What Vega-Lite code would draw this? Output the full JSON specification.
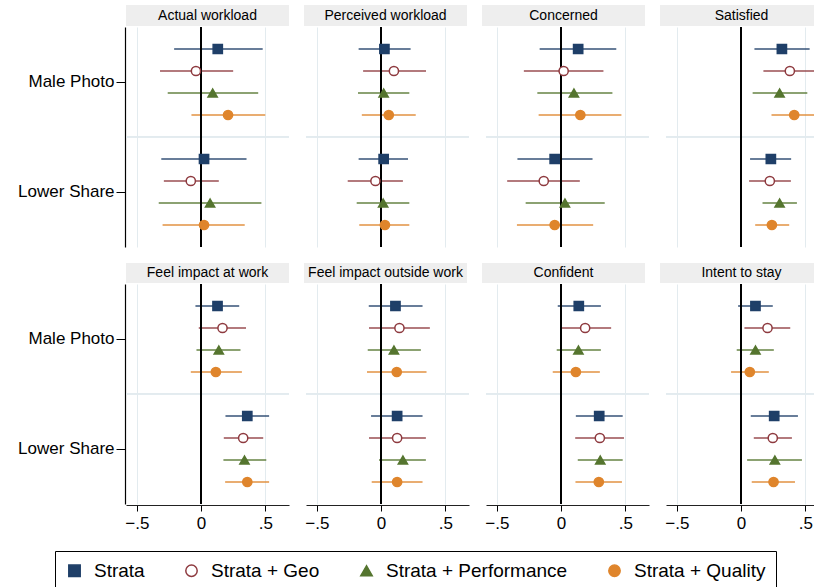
{
  "$schema": "https://vega.github.io/schema/vega-lite/v6.json",
  "padding": {"left": 17, "top": 5, "right": 0, "bottom": 0},
  "datasets": {
    "panels": [
      {"outcome": "Actual workload", "row": 1},
      {"outcome": "Perceived workload", "row": 1},
      {"outcome": "Concerned", "row": 1},
      {"outcome": "Satisfied", "row": 1},
      {"outcome": "Feel impact at work", "row": 2},
      {"outcome": "Feel impact outside work", "row": 2},
      {"outcome": "Confident", "row": 2},
      {"outcome": "Intent to stay", "row": 2}
    ],
    "est": [
      {"outcome": "Actual workload", "group": "Male Photo", "model": "Strata", "est": 0.13, "lo": -0.21, "hi": 0.48},
      {"outcome": "Actual workload", "group": "Male Photo", "model": "Strata + Geo", "est": -0.04, "lo": -0.32, "hi": 0.25},
      {"outcome": "Actual workload", "group": "Male Photo", "model": "Strata + Performance", "est": 0.09, "lo": -0.26, "hi": 0.445},
      {"outcome": "Actual workload", "group": "Male Photo", "model": "Strata + Quality", "est": 0.21, "lo": -0.075, "hi": 0.5},
      {"outcome": "Actual workload", "group": "Lower Share", "model": "Strata", "est": 0.023, "lo": -0.31, "hi": 0.354},
      {"outcome": "Actual workload", "group": "Lower Share", "model": "Strata + Geo", "est": -0.08, "lo": -0.29, "hi": 0.138},
      {"outcome": "Actual workload", "group": "Lower Share", "model": "Strata + Performance", "est": 0.07, "lo": -0.33, "hi": 0.47},
      {"outcome": "Actual workload", "group": "Lower Share", "model": "Strata + Quality", "est": 0.023, "lo": -0.3, "hi": 0.34},

      {"outcome": "Perceived workload", "group": "Male Photo", "model": "Strata", "est": 0.026, "lo": -0.175, "hi": 0.23},
      {"outcome": "Perceived workload", "group": "Male Photo", "model": "Strata + Geo", "est": 0.1, "lo": -0.14, "hi": 0.35},
      {"outcome": "Perceived workload", "group": "Male Photo", "model": "Strata + Performance", "est": 0.02, "lo": -0.18, "hi": 0.22},
      {"outcome": "Perceived workload", "group": "Male Photo", "model": "Strata + Quality", "est": 0.06, "lo": -0.15, "hi": 0.27},
      {"outcome": "Perceived workload", "group": "Lower Share", "model": "Strata", "est": 0.02, "lo": -0.175, "hi": 0.21},
      {"outcome": "Perceived workload", "group": "Lower Share", "model": "Strata + Geo", "est": -0.044, "lo": -0.26, "hi": 0.17},
      {"outcome": "Perceived workload", "group": "Lower Share", "model": "Strata + Performance", "est": 0.016, "lo": -0.19, "hi": 0.22},
      {"outcome": "Perceived workload", "group": "Lower Share", "model": "Strata + Quality", "est": 0.03, "lo": -0.17, "hi": 0.22},

      {"outcome": "Concerned", "group": "Male Photo", "model": "Strata", "est": 0.133, "lo": -0.167, "hi": 0.43},
      {"outcome": "Concerned", "group": "Male Photo", "model": "Strata + Geo", "est": 0.02, "lo": -0.29, "hi": 0.33},
      {"outcome": "Concerned", "group": "Male Photo", "model": "Strata + Performance", "est": 0.1, "lo": -0.185, "hi": 0.4},
      {"outcome": "Concerned", "group": "Male Photo", "model": "Strata + Quality", "est": 0.15, "lo": -0.175, "hi": 0.47},
      {"outcome": "Concerned", "group": "Lower Share", "model": "Strata", "est": -0.05, "lo": -0.34, "hi": 0.245},
      {"outcome": "Concerned", "group": "Lower Share", "model": "Strata + Geo", "est": -0.135, "lo": -0.42, "hi": 0.146},
      {"outcome": "Concerned", "group": "Lower Share", "model": "Strata + Performance", "est": 0.03, "lo": -0.276, "hi": 0.34},
      {"outcome": "Concerned", "group": "Lower Share", "model": "Strata + Quality", "est": -0.05, "lo": -0.344, "hi": 0.25},

      {"outcome": "Satisfied", "group": "Male Photo", "model": "Strata", "est": 0.318, "lo": 0.104, "hi": 0.534},
      {"outcome": "Satisfied", "group": "Male Photo", "model": "Strata + Geo", "est": 0.38, "lo": 0.174, "hi": 0.62},
      {"outcome": "Satisfied", "group": "Male Photo", "model": "Strata + Performance", "est": 0.3, "lo": 0.09, "hi": 0.516},
      {"outcome": "Satisfied", "group": "Male Photo", "model": "Strata + Quality", "est": 0.414, "lo": 0.237, "hi": 0.6},
      {"outcome": "Satisfied", "group": "Lower Share", "model": "Strata", "est": 0.232, "lo": 0.07, "hi": 0.39},
      {"outcome": "Satisfied", "group": "Lower Share", "model": "Strata + Geo", "est": 0.224, "lo": 0.0625, "hi": 0.388},
      {"outcome": "Satisfied", "group": "Lower Share", "model": "Strata + Performance", "est": 0.3, "lo": 0.167, "hi": 0.435},
      {"outcome": "Satisfied", "group": "Lower Share", "model": "Strata + Quality", "est": 0.24, "lo": 0.11, "hi": 0.375},

      {"outcome": "Feel impact at work", "group": "Male Photo", "model": "Strata", "est": 0.128, "lo": -0.044, "hi": 0.297},
      {"outcome": "Feel impact at work", "group": "Male Photo", "model": "Strata + Geo", "est": 0.167, "lo": -0.018, "hi": 0.35},
      {"outcome": "Feel impact at work", "group": "Male Photo", "model": "Strata + Performance", "est": 0.138, "lo": -0.036, "hi": 0.307},
      {"outcome": "Feel impact at work", "group": "Male Photo", "model": "Strata + Quality", "est": 0.115, "lo": -0.08, "hi": 0.318},
      {"outcome": "Feel impact at work", "group": "Lower Share", "model": "Strata", "est": 0.36, "lo": 0.19, "hi": 0.53},
      {"outcome": "Feel impact at work", "group": "Lower Share", "model": "Strata + Geo", "est": 0.328, "lo": 0.177, "hi": 0.484},
      {"outcome": "Feel impact at work", "group": "Lower Share", "model": "Strata + Performance", "est": 0.338, "lo": 0.174, "hi": 0.508},
      {"outcome": "Feel impact at work", "group": "Lower Share", "model": "Strata + Quality", "est": 0.36, "lo": 0.1875, "hi": 0.53},

      {"outcome": "Feel impact outside work", "group": "Male Photo", "model": "Strata", "est": 0.112, "lo": -0.096, "hi": 0.323},
      {"outcome": "Feel impact outside work", "group": "Male Photo", "model": "Strata + Geo", "est": 0.143, "lo": -0.094, "hi": 0.38},
      {"outcome": "Feel impact outside work", "group": "Male Photo", "model": "Strata + Performance", "est": 0.1, "lo": -0.104, "hi": 0.31},
      {"outcome": "Feel impact outside work", "group": "Male Photo", "model": "Strata + Quality", "est": 0.122, "lo": -0.11, "hi": 0.354},
      {"outcome": "Feel impact outside work", "group": "Lower Share", "model": "Strata", "est": 0.125, "lo": -0.078, "hi": 0.323},
      {"outcome": "Feel impact outside work", "group": "Lower Share", "model": "Strata + Geo", "est": 0.125, "lo": -0.094, "hi": 0.349},
      {"outcome": "Feel impact outside work", "group": "Lower Share", "model": "Strata + Performance", "est": 0.17, "lo": -0.016, "hi": 0.349},
      {"outcome": "Feel impact outside work", "group": "Lower Share", "model": "Strata + Quality", "est": 0.125, "lo": -0.073, "hi": 0.323},

      {"outcome": "Confident", "group": "Male Photo", "model": "Strata", "est": 0.138, "lo": -0.026, "hi": 0.31},
      {"outcome": "Confident", "group": "Male Photo", "model": "Strata + Geo", "est": 0.1875, "lo": -0.008, "hi": 0.39},
      {"outcome": "Confident", "group": "Male Photo", "model": "Strata + Performance", "est": 0.135, "lo": -0.034, "hi": 0.31},
      {"outcome": "Confident", "group": "Male Photo", "model": "Strata + Quality", "est": 0.115, "lo": -0.065, "hi": 0.302},
      {"outcome": "Confident", "group": "Lower Share", "model": "Strata", "est": 0.297, "lo": 0.115, "hi": 0.48},
      {"outcome": "Confident", "group": "Lower Share", "model": "Strata + Geo", "est": 0.302, "lo": 0.11, "hi": 0.49},
      {"outcome": "Confident", "group": "Lower Share", "model": "Strata + Performance", "est": 0.305, "lo": 0.13, "hi": 0.48},
      {"outcome": "Confident", "group": "Lower Share", "model": "Strata + Quality", "est": 0.294, "lo": 0.112, "hi": 0.474},

      {"outcome": "Intent to stay", "group": "Male Photo", "model": "Strata", "est": 0.112, "lo": -0.023, "hi": 0.247},
      {"outcome": "Intent to stay", "group": "Male Photo", "model": "Strata + Geo", "est": 0.206, "lo": 0.026, "hi": 0.383},
      {"outcome": "Intent to stay", "group": "Male Photo", "model": "Strata + Performance", "est": 0.112, "lo": -0.034, "hi": 0.255},
      {"outcome": "Intent to stay", "group": "Male Photo", "model": "Strata + Quality", "est": 0.068, "lo": -0.078, "hi": 0.216},
      {"outcome": "Intent to stay", "group": "Lower Share", "model": "Strata", "est": 0.258, "lo": 0.0755, "hi": 0.443},
      {"outcome": "Intent to stay", "group": "Lower Share", "model": "Strata + Geo", "est": 0.247, "lo": 0.099, "hi": 0.396},
      {"outcome": "Intent to stay", "group": "Lower Share", "model": "Strata + Performance", "est": 0.263, "lo": 0.047, "hi": 0.474},
      {"outcome": "Intent to stay", "group": "Lower Share", "model": "Strata + Quality", "est": 0.253, "lo": 0.083, "hi": 0.42}
    ]
  },
  "spacing": 0,
  "vconcat": [
    {
      "data": {"name": "panels"},
      "transform": [{"filter": {"field": "row", "equal": 1}}],
      "facet": {"column": {"field": "outcome", "type": "nominal", "sort": ["Actual workload", "Perceived workload", "Concerned", "Satisfied"], "header": {"title": null, "labels": false}}},
      "spacing": {"column": 15},
      "spec": {
        "width": 163, "height": 21,
        "view": {"fill": "#eeeeee", "stroke": null},
        "mark": {"type": "text", "fontSize": 14, "color": "black", "baseline": "middle", "align": "center"},
        "encoding": {"text": {"field": "outcome", "type": "nominal"}}
      }
    },
    {
      "data": {"name": "est"},
      "transform": [{"filter": {"field": "outcome", "oneOf": ["Actual workload", "Perceived workload", "Concerned", "Satisfied"]}}],
      "facet": {"column": {"field": "outcome", "type": "nominal", "sort": ["Actual workload", "Perceived workload", "Concerned", "Satisfied"], "header": {"title": null, "labels": false}}},
      "spacing": {"column": 15},
      "spec": {
        "width": 163, "height": 220,
        "encoding": {
          "y": {"field": "group", "type": "nominal", "sort": ["Male Photo", "Lower Share"], "scale": {"type": "band", "domain": ["Male Photo", "Lower Share"], "paddingInner": 0, "paddingOuter": 0}, "axis": {"title": null, "grid": false, "labelFontSize": 17, "labelColor": "black", "tickSize": 9, "tickColor": "black", "labelPadding": 2, "domainColor": "black", "domainWidth": 1.2}},
          "yOffset": {"field": "model", "type": "nominal", "scale": {"type": "point", "padding": 1, "domain": ["Strata", "Strata + Geo", "Strata + Performance", "Strata + Quality"]}}
        },
        "layer": [
          {
            "mark": {"type": "rule", "color": "#e3ebef", "strokeWidth": 1},
            "encoding": {"y": {"datum": "Lower Share", "type": "nominal", "bandPosition": 0}, "yOffset": null}
          },
          {
            "mark": {"type": "rule", "strokeWidth": 1.5, "opacity": 0.9},
            "encoding": {
              "x": {"field": "lo", "type": "quantitative", "scale": {"domain": [-0.585, 0.685], "nice": false, "zero": false}, "axis": {"title": null, "values": [-0.5, 0.5], "grid": true, "gridColor": "#e3ebef", "labels": false, "ticks": true, "tickSize": 15, "tickOpacity": 0, "domain": false}},
              "x2": {"field": "hi"},
              "color": {"field": "model", "type": "nominal", "scale": {"domain": ["Strata + Quality", "Strata + Performance", "Strata + Geo", "Strata"], "range": ["#df852c", "#55752f", "#8e3a3f", "#1f3f68"]}, "legend": null}
            }
          },
          {
            "mark": {"type": "rule", "color": "black", "strokeWidth": 1.4},
            "encoding": {"x": {"datum": 0, "type": "quantitative"}, "y": null, "yOffset": null}
          },
          {
            "mark": {"type": "point", "filled": true, "opacity": 1, "strokeWidth": 1.5, "size": 85},
            "encoding": {
              "x": {"field": "est", "type": "quantitative"},
              "shape": {"field": "model", "type": "nominal", "scale": {"domain": ["Strata", "Strata + Geo", "Strata + Performance", "Strata + Quality"], "range": ["square", "circle", "triangle-up", "circle"]}, "legend": {"title": null, "orient": "none", "legendX": -71, "legendY": 546, "direction": "horizontal", "columns": 4}},
              "fill": {"field": "model", "type": "nominal", "scale": {"domain": ["Strata", "Strata + Geo", "Strata + Performance", "Strata + Quality"], "range": ["#1f3f68", "#ffffff", "#55752f", "#df852c"]}, "legend": {"title": null, "orient": "none", "legendX": -71, "legendY": 546, "direction": "horizontal", "columns": 4}},
              "stroke": {"field": "model", "type": "nominal", "scale": {"domain": ["Strata", "Strata + Geo", "Strata + Performance", "Strata + Quality"], "range": ["#1f3f68", "#8e3a3f", "#55752f", "#df852c"]}, "legend": {"title": null, "orient": "none", "legendX": -71, "legendY": 546, "direction": "horizontal", "columns": 4}}
            }
          }
        ]
      }
    },
    {
      "data": {"name": "panels"},
      "transform": [{"filter": {"field": "row", "equal": 2}}],
      "facet": {"column": {"field": "outcome", "type": "nominal", "sort": ["Feel impact at work", "Feel impact outside work", "Confident", "Intent to stay"], "header": {"title": null, "labels": false}}},
      "spacing": {"column": 15},
      "spec": {
        "width": 163, "height": 20,
        "view": {"fill": "#eeeeee", "stroke": null},
        "mark": {"type": "text", "fontSize": 14, "color": "black", "baseline": "middle", "align": "center"},
        "encoding": {"text": {"field": "outcome", "type": "nominal"}}
      }
    },
    {
      "data": {"name": "est"},
      "transform": [{"filter": {"field": "outcome", "oneOf": ["Feel impact at work", "Feel impact outside work", "Confident", "Intent to stay"]}}],
      "facet": {"column": {"field": "outcome", "type": "nominal", "sort": ["Feel impact at work", "Feel impact outside work", "Confident", "Intent to stay"], "header": {"title": null, "labels": false}}},
      "spacing": {"column": 15},
      "spec": {
        "width": 163, "height": 220,
        "encoding": {
          "y": {"field": "group", "type": "nominal", "sort": ["Male Photo", "Lower Share"], "scale": {"type": "band", "domain": ["Male Photo", "Lower Share"], "paddingInner": 0, "paddingOuter": 0}, "axis": {"title": null, "grid": false, "labelFontSize": 17, "labelColor": "black", "tickSize": 9, "tickColor": "black", "labelPadding": 2, "domainColor": "black", "domainWidth": 1.2}},
          "yOffset": {"field": "model", "type": "nominal", "scale": {"type": "point", "padding": 1, "domain": ["Strata", "Strata + Geo", "Strata + Performance", "Strata + Quality"]}}
        },
        "layer": [
          {
            "mark": {"type": "rule", "color": "#e3ebef", "strokeWidth": 1},
            "encoding": {"y": {"datum": "Lower Share", "type": "nominal", "bandPosition": 0}, "yOffset": null}
          },
          {
            "mark": {"type": "rule", "strokeWidth": 1.5, "opacity": 0.9},
            "encoding": {
              "x": {"field": "lo", "type": "quantitative", "scale": {"domain": [-0.585, 0.685], "nice": false, "zero": false}, "axis": {"title": null, "values": [-0.5, 0, 0.5], "labelExpr": "datum.value == 0 ? '0' : replace(format(datum.value, '.1f'), '0.', '.')", "grid": true, "gridColor": "#e3ebef", "labelFontSize": 17, "labelColor": "black", "tickSize": 6, "tickColor": "black", "labelPadding": 4, "domainColor": "#222222", "domainWidth": 1.2}},
              "x2": {"field": "hi"},
              "color": {"field": "model", "type": "nominal", "scale": {"domain": ["Strata + Quality", "Strata + Performance", "Strata + Geo", "Strata"], "range": ["#df852c", "#55752f", "#8e3a3f", "#1f3f68"]}, "legend": null}
            }
          },
          {
            "mark": {"type": "rule", "color": "black", "strokeWidth": 1.4},
            "encoding": {"x": {"datum": 0, "type": "quantitative"}, "y": null, "yOffset": null}
          },
          {
            "mark": {"type": "point", "filled": true, "opacity": 1, "strokeWidth": 1.5, "size": 85},
            "encoding": {
              "x": {"field": "est", "type": "quantitative"},
              "shape": {"field": "model", "type": "nominal", "scale": {"domain": ["Strata", "Strata + Geo", "Strata + Performance", "Strata + Quality"], "range": ["square", "circle", "triangle-up", "circle"]}, "legend": {"title": null, "orient": "none", "legendX": -71, "legendY": 546, "direction": "horizontal", "columns": 4}},
              "fill": {"field": "model", "type": "nominal", "scale": {"domain": ["Strata", "Strata + Geo", "Strata + Performance", "Strata + Quality"], "range": ["#1f3f68", "#ffffff", "#55752f", "#df852c"]}, "legend": {"title": null, "orient": "none", "legendX": -71, "legendY": 546, "direction": "horizontal", "columns": 4}},
              "stroke": {"field": "model", "type": "nominal", "scale": {"domain": ["Strata", "Strata + Geo", "Strata + Performance", "Strata + Quality"], "range": ["#1f3f68", "#8e3a3f", "#55752f", "#df852c"]}, "legend": {"title": null, "orient": "none", "legendX": -71, "legendY": 546, "direction": "horizontal", "columns": 4}}
            }
          }
        ]
      }
    }
  ],
  "config": {
    "font": "Liberation Sans",
    "view": {"stroke": null},
    "legend": {
      "strokeColor": "black", "fillColor": "white", "padding": 10,
      "labelFontSize": 19, "labelColor": "black", "labelOffset": 10, "labelLimit": 400,
      "columnPadding": 37, "symbolStrokeWidth": 1.5, "symbolOpacity": 1, "symbolSize": 130
    }
  }
}
